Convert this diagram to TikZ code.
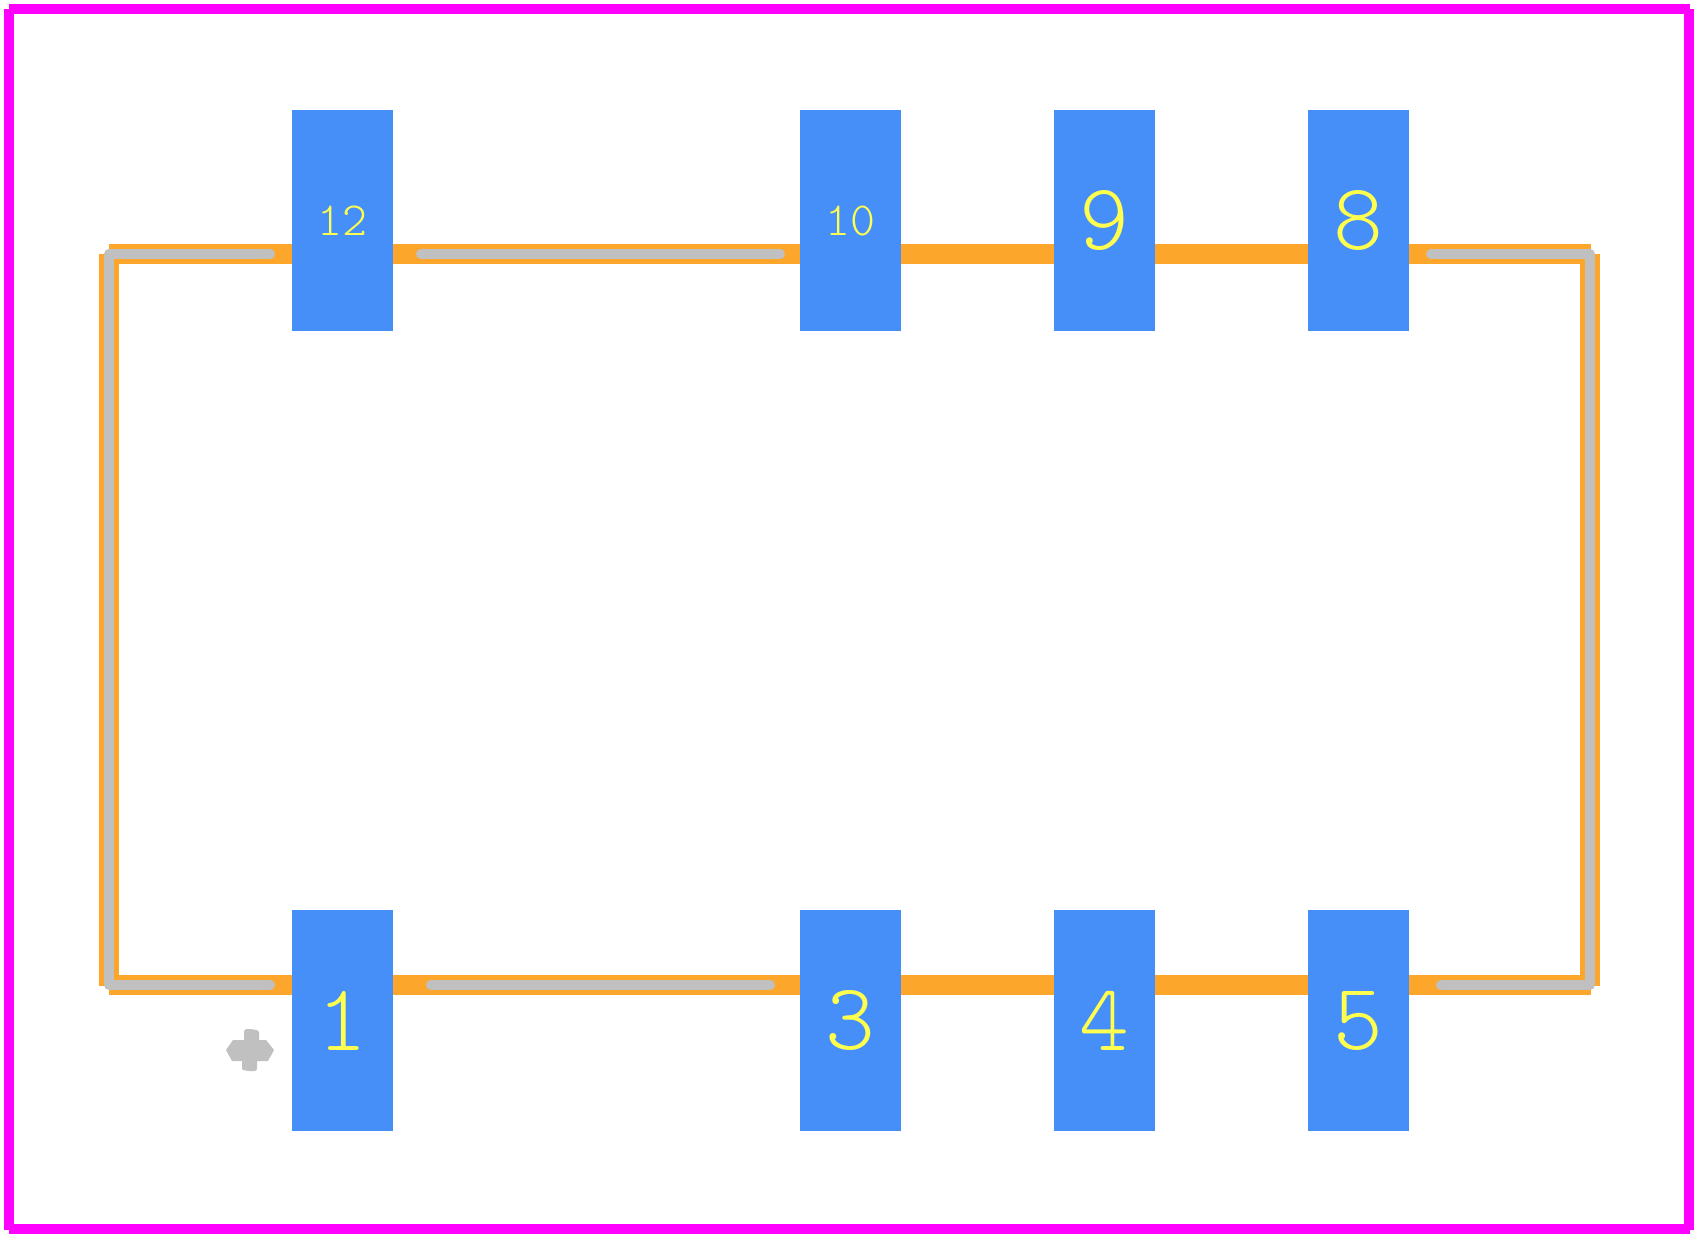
\documentclass[tikz,border=0pt]{standalone}
\definecolor{padblue}{RGB}{71,143,248}
\definecolor{bodyorange}{RGB}{252,166,44}
\definecolor{silkgray}{RGB}{192,192,192}
\definecolor{textyellow}{RGB}{255,255,80}
\definecolor{boundmagenta}{RGB}{255,0,255}
\tikzset{
    padbox/.style={fill=padblue, minimum width=1.01cm, minimum height=2.21cm, inner sep=0pt, text=textyellow},
    bigpin/.style={padbox, font=\fontsize{27}{27}\fontseries{l}\ttfamily\selectfont},
    smallpin/.style={padbox, font=\fontsize{13.5}{13.5}\fontseries{l}\ttfamily\selectfont},
    boundline/.style={boundmagenta, line width=0.1cm},
    bodyline/.style={bodyorange, line width=0.2cm},
    silkline/.style={silkgray, line width=0.1cm, line cap=round, line join=round}
}

\begin{document}
\begin{tikzpicture}[x=0.01cm, y=-0.01cm]
    \useasboundingbox (0,0) rectangle (1700,1239);
    \fill[white] (0,0) rectangle (1700,1239);
    % outer boundary
    \draw[boundline] (9,9) -- (1690,9);
    \draw[boundline] (1689,9) -- (1689,1230);
    \draw[boundline] (9,1229) -- (1690,1229);
    \draw[boundline] (9,9) -- (9,1230);
    % body outline
    \draw[bodyline] (109,254) -- (1591,254);
    \draw[bodyline] (1590,254) -- (1590,986);
    \draw[bodyline] (109,985) -- (1591,985);
    \draw[bodyline] (109,254) -- (109,986);
    % silkscreen
    \draw[silkline] (270,254) -- (109,254) -- (109,985) -- (270,985);
    \draw[silkline] (421,254) -- (780,254);
    \draw[silkline] (431,985) -- (770,985);
    \draw[silkline] (1431,254) -- (1590,254) -- (1590,985) -- (1441,985);
    % pin one mark
    \fill[silkgray] (226,1050) -- (233,1040) -- (244,1040) -- (244,1031) -- (246,1029) -- (250,1029) -- (257,1030)
        -- (259,1032) -- (259,1040) -- (266,1040) -- (274,1050) -- (268,1061) -- (257,1061) -- (257,1069)
        -- (255,1071) -- (249,1071) -- (243,1070) -- (242,1068) -- (242,1061) -- (232,1061) -- cycle;
    % pads
    \node[bigpin] (pad1) at (342.5,1020.5) {1};
    \node[bigpin] (pad3) at (850.5,1020.5) {3};
    \node[bigpin] (pad4) at (1104.5,1020.5) {4};
    \node[bigpin] (pad5) at (1358.5,1020.5) {5};
    \node[bigpin] (pad8) at (1358.5,220.5) {8};
    \node[bigpin] (pad9) at (1104.5,220.5) {9};
    \node[smallpin] (pad10) at (850.5,220.5) {10};
    \node[smallpin] (pad12) at (342.5,220.5) {12};
\end{tikzpicture}
\end{document}
